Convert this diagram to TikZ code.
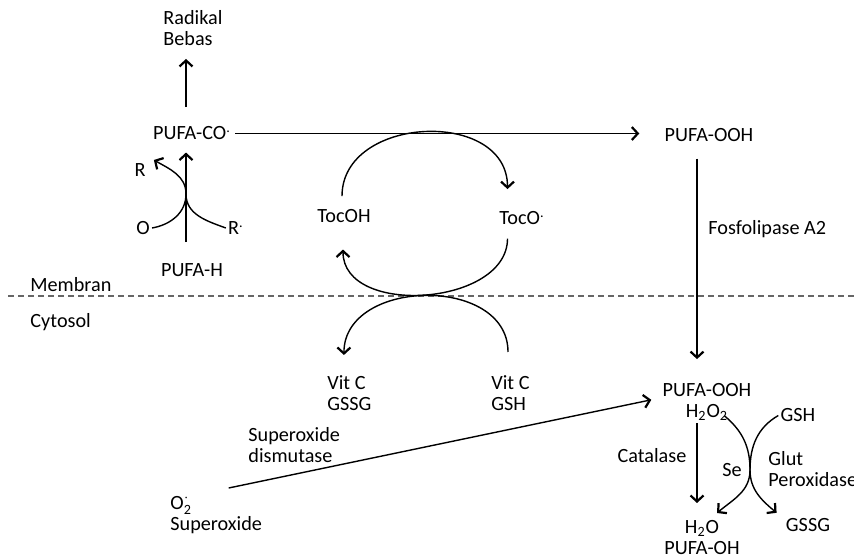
\documentclass[tikz,border=0pt]{standalone}
\usepackage{amsmath}
\usepackage{fontspec}
\setmainfont{Carlito}
\usetikzlibrary{arrows.meta}

\begin{document}
\begin{tikzpicture}[x=0.5pt,y=0.5pt,
    font=\fontsize{10.1pt}{10.5pt}\selectfont,
    lbl/.style={inner sep=1pt},
    arr/.style={line width=0.7pt,-{Straight Barb[length=3pt,width=6.5pt,line width=1.1pt]}},
    crv/.style={line width=0.7pt}]
    \useasboundingbox (0,0) rectangle (854,560);

    % membran
    \node[lbl,anchor=north west,align=left] (radikal) at (161,552) {Radikal\\Bebas};
    \node[lbl,anchor=base] (pufaco) at (192,420) {PUFA-CO\textsuperscript{.}};
    \node[lbl,anchor=base] (pufah) at (192,283) {PUFA-H};
    \node[lbl,anchor=base] (pufaooh) at (709,418) {PUFA-OOH};
    \node[lbl] (lblR) at (140,390) {R};
    \node[lbl] (lblO) at (143,332) {O};
    \node[lbl] (lblRdot) at (236,332) {R\textsuperscript{.}};
    \node[lbl,anchor=base] (tocoh) at (344,337) {TocOH};
    \node[lbl,anchor=base] (toco) at (522,335) {TocO\textsuperscript{.}};
    \node[lbl,anchor=base west] (fosfo) at (706,325) {Fosfolipase A2};
    \node[lbl,anchor=base west] (membran) at (28,268) {Membran};
    \node[lbl,anchor=base west] (cytosol) at (28,232) {Cytosol};

    % cytosol
    \node[lbl,anchor=north west,align=left] (vitcgssg) at (325,187) {Vit C\\GSSG};
    \node[lbl,anchor=north west,align=left] (vitcgsh) at (489,187) {Vit C\\GSH};
    \node[lbl,anchor=base] (pufaooh2) at (707,163) {PUFA-OOH};
    \node[lbl,anchor=base] (h2o2) at (707,142) {H\textsubscript{2}O\textsubscript{2}};
    \node[lbl,anchor=north,align=center] (h2o) at (702,42) {H\textsubscript{2}O\\PUFA-OH};
    \node[lbl,anchor=base] (catalase) at (652,97) {Catalase};
    \node[lbl,anchor=base] (se) at (732,83) {Se};
    \node[lbl,anchor=north west,align=left] (glut) at (766,111) {Glut\\Peroxidase};
    \node[lbl,anchor=base] (gsh) at (798,138) {GSH};
    \node[lbl,anchor=base] (gssg) at (808,28) {GSSG};
    \node[lbl,anchor=north west,align=left] (sod) at (246,135) {Superoxide\\dismutase};
    \node[lbl,anchor=north west,align=left] (o2) at (168,67) {O$_{\text{2}}^{\cdot}$\\Superoxide};

    \coordinate (stemA) at (186,0);
    \coordinate (stemB) at (697,0);
    \coordinate (meet) at (186,366);
    \coordinate (cross) at (750,90);

    \draw[black!60,line width=0.7pt,dash pattern=on 3pt off 2pt] (8,264) -- (854,264);

    \draw[arr,shorten <=8.7pt,shorten >=5.5pt] (pufaco.north -| stemA) -- (radikal.south -| stemA);
    \draw[arr,shorten <=9.7pt,shorten >=5pt] (pufah.north -| stemA) -- (pufaco.south -| stemA);
    \draw[arr,shorten <=1pt,shorten >=11.5pt] (pufaco.east) -- (pufaco.east -| pufaooh.west);
    \draw[crv] (lblO.east) to[out=10,in=-90] (meet);
    \draw[arr] (lblRdot.west) to[out=160,in=-90] (meet) to[out=90,in=-30] ([xshift=3pt,yshift=5pt]lblR.east);

    % tocopherol cycle
    \draw[arr] ([xshift=-1pt,yshift=5.7pt]tocoh.north) to[out=90,in=90,looseness=1.25] ([xshift=-7.25pt,yshift=10.2pt]toco.north);
    \draw[arr] ([xshift=-7.25pt,yshift=-5.5pt]toco.south) to[out=-90,in=-90,looseness=1.05] ([xshift=-0.5pt,yshift=-12pt]tocoh.south);
    \draw[arr] ([xshift=-1.25pt,yshift=10.5pt]vitcgsh.north) to[out=90,in=90,looseness=1.2] ([xshift=-2.75pt,yshift=9pt]vitcgssg.north);

    \draw[arr,shorten <=7pt,shorten >=11.2pt] (pufaooh.south -| stemB) -- (pufaooh2.north -| stemB);
    \draw[arr] ([xshift=6.25pt,yshift=2.5pt]o2.north) -- ([xshift=-4.5pt,yshift=-4.65pt]pufaooh2.west);
    \draw[arr,shorten >=7.5pt] (h2o2.south -| stemB) -- (h2o.north -| stemB);
    \draw[arr] ([xshift=-3pt,yshift=-1.5pt]h2o2.east) to[out=-40,in=90] (cross) to[out=-90,in=40] ([xshift=7.5pt,yshift=2.5pt]h2o.north);
    \draw[arr] (gsh.west) to[out=-150,in=90] (cross) to[out=-90,in=140] ([xshift=-3.5pt,yshift=6.35pt]gssg.west);
\end{tikzpicture}
\end{document}
